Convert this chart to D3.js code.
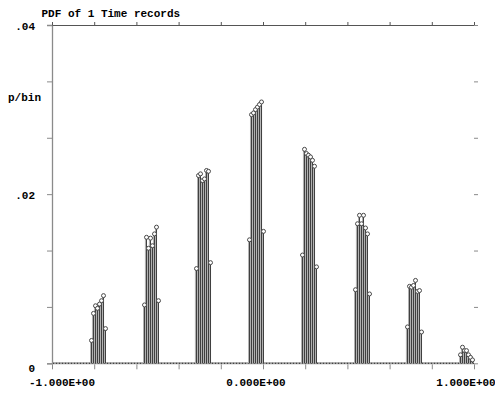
<!DOCTYPE html>
<html>
<head>
<meta charset="utf-8">
<script src="https://cdn.jsdelivr.net/npm/d3@7"></script>
<style>
  html, body { margin: 0; padding: 0; background: #fff; }
  svg { display: block; }
  text { font-family: "Liberation Mono", "DejaVu Sans Mono", monospace; font-weight: bold; font-size: 11px; fill: #000; }
</style>
</head>
<body>
<svg id="chart" width="495" height="395"></svg>
<script>
// Histogram bins with non-zero probability: bin centre and p/bin
const binCenters = [
  -0.815, -0.806, -0.796, -0.787, -0.777, -0.768, -0.758, -0.749,
  -0.564, -0.555, -0.545, -0.536, -0.526, -0.517, -0.507, -0.498,
  -0.318, -0.308, -0.299, -0.289, -0.280, -0.270, -0.261, -0.251,
  -0.066, -0.057, -0.047, -0.038, -0.028, -0.019, -0.009, 0.000,
   0.185,  0.194,  0.204,  0.213,  0.223,  0.232,  0.242, 0.251,
   0.436,  0.445,  0.455,  0.464,  0.474,  0.483,  0.493, 0.502,
   0.682,  0.692,  0.701,  0.711,  0.720,  0.730,  0.739, 0.749,
   0.934,  0.943,  0.953,  0.962,  0.972,  0.981,  0.991
];
const pPerBin = [
  0.0027, 0.0059, 0.0068, 0.0065, 0.0070, 0.0074, 0.0080, 0.0041,
  0.0069, 0.0149, 0.0136, 0.0148, 0.0139, 0.0153, 0.0161, 0.0074,
  0.0112, 0.0222, 0.0224, 0.0216, 0.0218, 0.0228, 0.0227, 0.0119,
  0.0146, 0.0294, 0.0296, 0.0300, 0.0303, 0.0306, 0.0309, 0.0156,
  0.0128, 0.0253, 0.0248, 0.0246, 0.0244, 0.0240, 0.0233, 0.0114,
  0.0087, 0.0165, 0.0175, 0.0165, 0.0175, 0.0160, 0.0153, 0.0082,
  0.0043, 0.0091, 0.0090, 0.0092, 0.0098, 0.0085, 0.0086, 0.0037,
  0.0010, 0.0019, 0.0015, 0.0015, 0.0010, 0.0007, 0.0004
];
const binWidth = 0.0095;

const xTickValues = [-1, -0.8, -0.6, -0.4, -0.2, 0, 0.2, 0.4, 0.6, 0.8, 1];
const xLabelValues = [-1, 0, 1];
const xLabelText = ["-1.000E+00", "0.000E+00", "1.000E+00"];
const yTickValues = [0, 0.04 / 6, 0.08 / 6, 0.02, 0.16 / 6, 0.2 / 6, 0.04];
const yLabelValues = [0, 0.02, 0.04];
const yLabelText = ["0", ".02", ".04"];
const titleText = "PDF of 1 Time records";
const yTitleText = "p/bin";

(function drawChart() {
  const svg = d3.select("#chart");
  const x = d3.scaleLinear().domain([-1, 1]).range([52, 474]);
  const y = d3.scaleLinear().domain([0, 0.04]).range([363.3, 25]);

  const axisGrey = "#8a8a8a";

  // frame: left axis, top edge, right ticks, bottom ticks
  const leftAxis = svg.append("g").attr("transform", `translate(${x(-1)},0)`)
    .call(d3.axisLeft(y).tickValues(yTickValues).tickSize(5).tickFormat(""));
  leftAxis.select(".domain").attr("stroke", axisGrey).attr("stroke-width", 1.3);
  leftAxis.selectAll(".tick line").attr("stroke", axisGrey);

  const topAxis = svg.append("g").attr("transform", `translate(0,${y(0.04)})`)
    .call(d3.axisTop(x).tickValues(xTickValues).tickSize(3).tickSizeOuter(0).tickFormat(""));
  topAxis.select(".domain").attr("stroke", "#555");
  topAxis.selectAll(".tick line").attr("stroke", "#555");

  const rightAxis = svg.append("g").attr("transform", `translate(${x(1)},0)`)
    .call(d3.axisRight(y).tickValues(yTickValues).tickSize(4).tickFormat(""));
  rightAxis.select(".domain").remove();
  rightAxis.selectAll(".tick line").attr("stroke", axisGrey);

  const bottomAxis = svg.append("g").attr("transform", `translate(0,${y(0) + 1})`)
    .call(d3.axisBottom(x).tickValues(xTickValues).tickSize(5).tickSizeOuter(0).tickFormat(""));
  bottomAxis.select(".domain").remove();
  bottomAxis.selectAll(".tick line").attr("stroke", axisGrey);

  // zero-level bins form a dotted baseline
  svg.append("line")
    .attr("x1", x(-1)).attr("x2", x(1))
    .attr("y1", y(0)).attr("y2", y(0))
    .attr("stroke", "#9a9a9a").attr("stroke-width", 2);
  svg.append("line")
    .attr("x1", x(-1) + 1).attr("x2", x(1))
    .attr("y1", y(0)).attr("y2", y(0))
    .attr("stroke", "#444").attr("stroke-width", 1.2)
    .attr("stroke-dasharray", "1,2");

  const bins = binCenters.map((c, i) => ({ c, p: pPerBin[i] }));

  // shaded bin bodies
  svg.append("g").selectAll("rect").data(bins).join("rect")
    .attr("x", d => x(d.c - binWidth / 2))
    .attr("width", d => x(d.c + binWidth / 2) - x(d.c - binWidth / 2))
    .attr("y", d => y(d.p))
    .attr("height", d => y(0) - y(d.p))
    .attr("fill", "#b0b0b0");

  // stems
  svg.append("g").selectAll("line").data(bins).join("line")
    .attr("x1", d => Math.round(x(d.c)) + 0.5).attr("x2", d => Math.round(x(d.c)) + 0.5)
    .attr("y1", y(0)).attr("y2", d => y(d.p))
    .attr("stroke", "#404040").attr("stroke-width", 1);

  // markers at stem tops
  svg.append("g").selectAll("circle").data(bins).join("circle")
    .attr("cx", d => Math.round(x(d.c)) + 0.5)
    .attr("cy", d => y(d.p))
    .attr("r", 2)
    .attr("fill", "#fff")
    .attr("stroke", "#4a4a4a").attr("stroke-width", 1);

  // labels
  svg.append("text").attr("x", 41.5).attr("y", 17).text(titleText);
  svg.append("text").attr("x", 8).attr("y", 101).text(yTitleText);

  svg.append("g").selectAll("text").data(yLabelValues).join("text")
    .attr("x", 35)
    .attr("y", d => y(d) + (d === 0 ? 9 : 5))
    .attr("text-anchor", "end")
    .text((d, i) => yLabelText[i]);

  const xLabelShift = { "-1": 10, "0": -7, "1": -8 };
  svg.append("g").selectAll("text").data(xLabelValues).join("text")
    .attr("x", d => x(d) + xLabelShift[String(d)])
    .attr("y", 386)
    .attr("text-anchor", "middle")
    .text((d, i) => xLabelText[i]);
})();
</script>
</body>
</html>
